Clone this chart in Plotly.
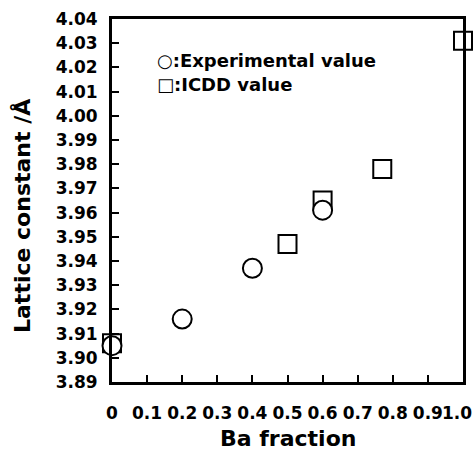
import plotly.graph_objects as go

# Data
exp_x = [0.0, 0.2, 0.4, 0.6]
exp_y = [3.905, 3.916, 3.937, 3.961]
icdd_x = [0.0, 0.5, 0.6, 0.77, 1.0]
icdd_y = [3.906, 3.947, 3.965, 3.978, 4.031]

x_ticks = [0, 0.1, 0.2, 0.3, 0.4, 0.5, 0.6, 0.7, 0.8, 0.9, 1.0]
x_ticktext = ["0", "0.1", "0.2", "0.3", "0.4", "0.5", "0.6", "0.7", "0.8", "0.9", "1.0"]

FONT = "DejaVu Sans"
TICKFONT = dict(family=FONT, size=17, color="black", weight="bold")

fig = go.Figure()
fig.add_trace(go.Scatter(
    x=icdd_x, y=icdd_y, mode="markers", name="ICDD value",
    marker=dict(symbol="square", size=18, color="white",
                line=dict(color="black", width=2)),
    cliponaxis=False, showlegend=False))
fig.add_trace(go.Scatter(
    x=exp_x, y=exp_y, mode="markers", name="Experimental value",
    marker=dict(symbol="circle", size=19, color="white",
                line=dict(color="black", width=2)),
    cliponaxis=False, showlegend=False))

fig.update_layout(
    width=475, height=458,
    margin=dict(l=112, r=12, t=19, b=76),
    plot_bgcolor="white", paper_bgcolor="white",
    font=dict(family=FONT, color="black", size=17, weight="bold"),
)
# last tick label is drawn separately so it stays inside the page edge
fig.update_xaxes(
    range=[0, 1], tickvals=x_ticks, ticktext=x_ticktext[:-1] + [""],
    ticks="inside", ticklen=7, tickwidth=2, tickcolor="black",
    showline=True, linecolor="black", linewidth=3, mirror=True,
    showgrid=False, zeroline=False, automargin=False,
    tickfont=TICKFONT, ticklabelstandoff=14,
)
fig.update_yaxes(
    range=[3.89, 4.04], dtick=0.01, tick0=3.89, tickformat=".2f",
    ticks="inside", ticklen=7, tickwidth=2, tickcolor="black",
    showline=True, linecolor="black", linewidth=3, mirror=True,
    showgrid=False, zeroline=False, automargin=False,
    tickfont=TICKFONT, ticklabelstandoff=8, ticklabeloverflow="allow",
)

fig.add_annotation(text=x_ticktext[-1], xref="paper", yref="paper",
                   x=(474 - 112) / 351, y=(382 - 413) / 363,
                   xanchor="right", yanchor="middle", showarrow=False,
                   font=TICKFONT)

# Axis titles
fig.add_annotation(text="Ba fraction", xref="paper", yref="paper",
                   x=0.5, y=(382 - 438) / 363, xanchor="center", yanchor="middle",
                   showarrow=False,
                   font=dict(family=FONT, size=22, color="black", weight="bold"))
fig.add_annotation(text="Lattice constant /Å", xref="paper", yref="paper",
                   x=(22 - 112) / 351, y=(382 - 216) / 363, textangle=-90,
                   xanchor="center", yanchor="middle", showarrow=False,
                   font=dict(family=FONT, size=22, color="black", weight="bold"))

# Legend-like text
fig.add_annotation(text="○:Experimental value", xref="paper", yref="paper",
                   x=(155 - 112) / 351, y=(382 - 60) / 363, xanchor="left", yanchor="middle",
                   showarrow=False,
                   font=dict(family=FONT, size=18, color="black", weight="bold"))
fig.add_annotation(text="□:ICDD value", xref="paper", yref="paper",
                   x=(155 - 112) / 351, y=(382 - 84) / 363, xanchor="left", yanchor="middle",
                   showarrow=False,
                   font=dict(family=FONT, size=18, color="black", weight="bold"))

fig.write_html("out.html")
